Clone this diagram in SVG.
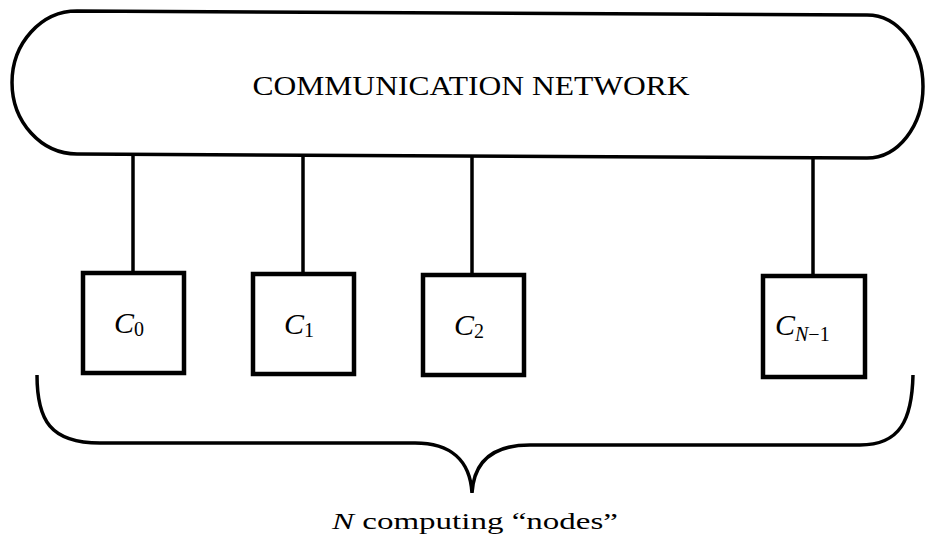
<svg xmlns="http://www.w3.org/2000/svg" width="925" height="542" viewBox="0 0 925 542">
<style>
.ln{stroke:#000;stroke-width:3.5;fill:none}
.box{stroke:#000;stroke-width:4.5;fill:#fff}
.t{font-family:"Liberation Serif","Times New Roman",serif;fill:#000}
.c{font-family:"Liberation Serif","Times New Roman",serif;font-style:italic;font-size:30px;fill:#000}
.s{font-size:20px;font-style:normal}
.si{font-size:20px;font-style:italic}
</style>
<rect width="925" height="542" fill="#fff"/>
<g id="network">
<path class="ln" stroke-width="4" d="M77,11 L867,15 A56,71.5 0 0 1 867,158 L77,154 A65,71.5 0 0 1 77,11 Z"/>
<text class="t" x="471" y="95" font-size="28" text-anchor="middle" textLength="437" lengthAdjust="spacingAndGlyphs">COMMUNICATION NETWORK</text>
</g>
<g id="connectors">
<line class="ln" x1="133" y1="154" x2="133" y2="273"/>
<line class="ln" x1="303" y1="155" x2="303" y2="274"/>
<line class="ln" x1="472" y1="156" x2="472" y2="275"/>
<line class="ln" x1="813" y1="158" x2="813" y2="276"/>
</g>
<g id="c0">
<rect class="box" x="83" y="273" width="101" height="100"/>
<text class="c" x="114" y="333">C<tspan class="s" dy="3">0</tspan></text>
</g>
<g id="c1">
<rect class="box" x="253" y="274" width="101" height="100"/>
<text class="c" x="284" y="334">C<tspan class="s" dy="3">1</tspan></text>
</g>
<g id="c2">
<rect class="box" x="423" y="275" width="101" height="100"/>
<text class="c" x="454" y="335">C<tspan class="s" dy="3">2</tspan></text>
</g>
<g id="cn1">
<rect class="box" x="763" y="276" width="102" height="101"/>
<text class="c" x="775" y="335">C<tspan class="si" dy="6">N</tspan><tspan class="s">−1</tspan></text>
</g>
<g id="brace">
<path class="ln" stroke-width="4" d="M37,375 C37,420 50,443 100,443 L415,443 C450,443 470,460 472,493 C474,460 494,445 530,445 L860,445 C900,445 912,420 913,375"/>
<text class="t" x="475" y="529" font-size="24" text-anchor="middle" textLength="286" lengthAdjust="spacingAndGlyphs"><tspan font-style="italic">N</tspan> computing “nodes”</text>
</g>
</svg>
